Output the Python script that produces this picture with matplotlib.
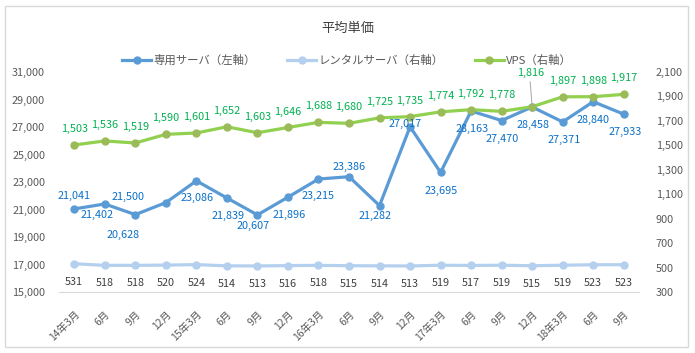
import matplotlib
matplotlib.use("Agg")
import matplotlib.pyplot as plt
from matplotlib.patches import Rectangle
from matplotlib.lines import Line2D

plt.rcParams['font.family'] = ['Noto Sans CJK JP', 'DejaVu Sans']

# ---- data ----
categories = ["14年3月", "6月", "9月", "12月", "15年3月", "6月", "9月", "12月",
              "16年3月", "6月", "9月", "12月", "17年3月", "6月", "9月", "12月",
              "18年3月", "6月", "9月"]
dedicated = [21041, 21402, 20628, 21500, 23086, 21839, 20607, 21896, 23215, 23386,
             21282, 27017, 23695, 28163, 27470, 28458, 27371, 28840, 27933]
rental = [531, 518, 518, 520, 524, 514, 513, 516, 518, 515,
          514, 513, 519, 517, 519, 515, 519, 523, 523]
vps = [1503, 1536, 1519, 1590, 1601, 1652, 1603, 1646, 1688, 1680,
       1725, 1735, 1774, 1792, 1778, 1816, 1897, 1898, 1917]
series_names = ["専用サーバ（左軸）", "レンタルサーバ（右軸）", "VPS（右軸）"]
title = "平均単価"
left_ticks = list(range(15000, 31001, 2000))
right_ticks = list(range(300, 2101, 200))

# ---- label placement (pixel offsets, +y = up) ----
ded_off = [(0, 13), (-8, -11), (-12, -20), (-38, 6), (1, -17), (1, -18), (-4, -11),
           (1, -18), (0, -17), (0, 10), (-4, -10), (-5, 3), (1, -19), (1, -18),
           (1, -18), (1, -18), (1, -18), (0, -18), (1, -18)]
vps_off = [(0, 16)] * 19
vps_off[15] = (-2, 34)
ren_off = [(0, -18)] * 19

c_ded = '#5B9BD5'
c_ren = '#B4D0EE'
c_vps = '#92D050'
c_vps_mk = '#9BBB59'
c_ded_lab = '#0A70C8'
c_vps_lab = '#00B050'
c_ren_lab = '#404040'
c_tick = '#595959'

W, H = 695, 353
fig = plt.figure(figsize=(W / 100, H / 100), dpi=100)
fig.patches.append(Rectangle((5 / W, 6 / H), 683 / W, 341 / H, transform=fig.transFigure,
                             fill=False, edgecolor='#D9D9D9', linewidth=1.0))

ax = fig.add_axes([59 / W, 61 / H, 580 / W, 220 / H])
ax2 = ax.twinx()
x = list(range(len(categories)))

ax.plot(x, dedicated, color=c_ded, lw=2.3, marker='o', ms=5, zorder=3)
ax2.plot(x, rental, color=c_ren, lw=2.3, marker='o', ms=5, zorder=3)
ax2.plot(x, vps, color=c_vps, lw=2.3, marker='o', ms=5, mfc=c_vps_mk, mec=c_vps_mk, zorder=3)

ax.set_xlim(-0.5, len(categories) - 0.5)
ax.set_ylim(15000, 31000)
ax2.set_ylim(300, 2100)
ax.set_yticks(left_ticks)
ax.set_yticklabels([f"{v:,}" for v in left_ticks])
ax2.set_yticks(right_ticks)
ax2.set_yticklabels([f"{v:,}" for v in right_ticks])
ax.set_xticks(x)
ax.set_xticklabels(categories, rotation=45, ha='right', va='top', rotation_mode='anchor')

for a in (ax, ax2):
    for s in a.spines.values():
        s.set_visible(False)
    a.tick_params(length=0, labelsize=7.8, colors=c_tick)
ax.spines['bottom'].set_visible(True)
ax.spines['bottom'].set_color('#D9D9D9')
ax.tick_params(axis='y', pad=10)
ax2.tick_params(axis='y', pad=12)
ax.tick_params(axis='x', pad=12, labelsize=7.5)

fs = 7.8
for i, v in enumerate(dedicated):
    ax2.annotate(f"{v:,}", xy=(i, v), xycoords=ax.transData, xytext=ded_off[i],
                 textcoords='offset pixels', ha='center', va='center',
                 fontsize=fs, color=c_ded_lab, zorder=5)
for i, v in enumerate(rental):
    ax2.annotate(f"{v:,}", xy=(i, v), xytext=ren_off[i], textcoords='offset pixels',
                 ha='center', va='center', fontsize=fs, color=c_ren_lab, zorder=5)
for i, v in enumerate(vps):
    ax2.annotate(f"{v:,}", xy=(i, v), xytext=vps_off[i], textcoords='offset pixels',
                 ha='center', va='center', fontsize=fs, color=c_vps_lab, zorder=5)
# leader line for the moved label
i15 = 15
ax2.annotate("", xy=(i15, vps[i15]), xytext=(vps_off[i15][0], vps_off[i15][1] - 9),
             textcoords='offset pixels',
             arrowprops=dict(arrowstyle='-', color='#A6A6A6', lw=0.7, shrinkA=0, shrinkB=1))

fig.text(348 / W, 1 - 28 / H, title, ha='center', va='center', fontsize=9.5, color='#404040')

handles = [Line2D([], [], color=c_ded, lw=2.3, marker='o', ms=5),
           Line2D([], [], color=c_ren, lw=2.3, marker='o', ms=5),
           Line2D([], [], color=c_vps, lw=2.3, marker='o', ms=5, mfc=c_vps_mk, mec=c_vps_mk)]
leg = fig.legend(handles, series_names, loc='center', bbox_to_anchor=(347 / W, 1 - 60 / H),
                 ncol=3, frameon=False, fontsize=8.2, handlelength=2.5,
                 handletextpad=0.2, columnspacing=2.8, labelcolor='#595959')

fig.savefig("out.png", dpi=100)
